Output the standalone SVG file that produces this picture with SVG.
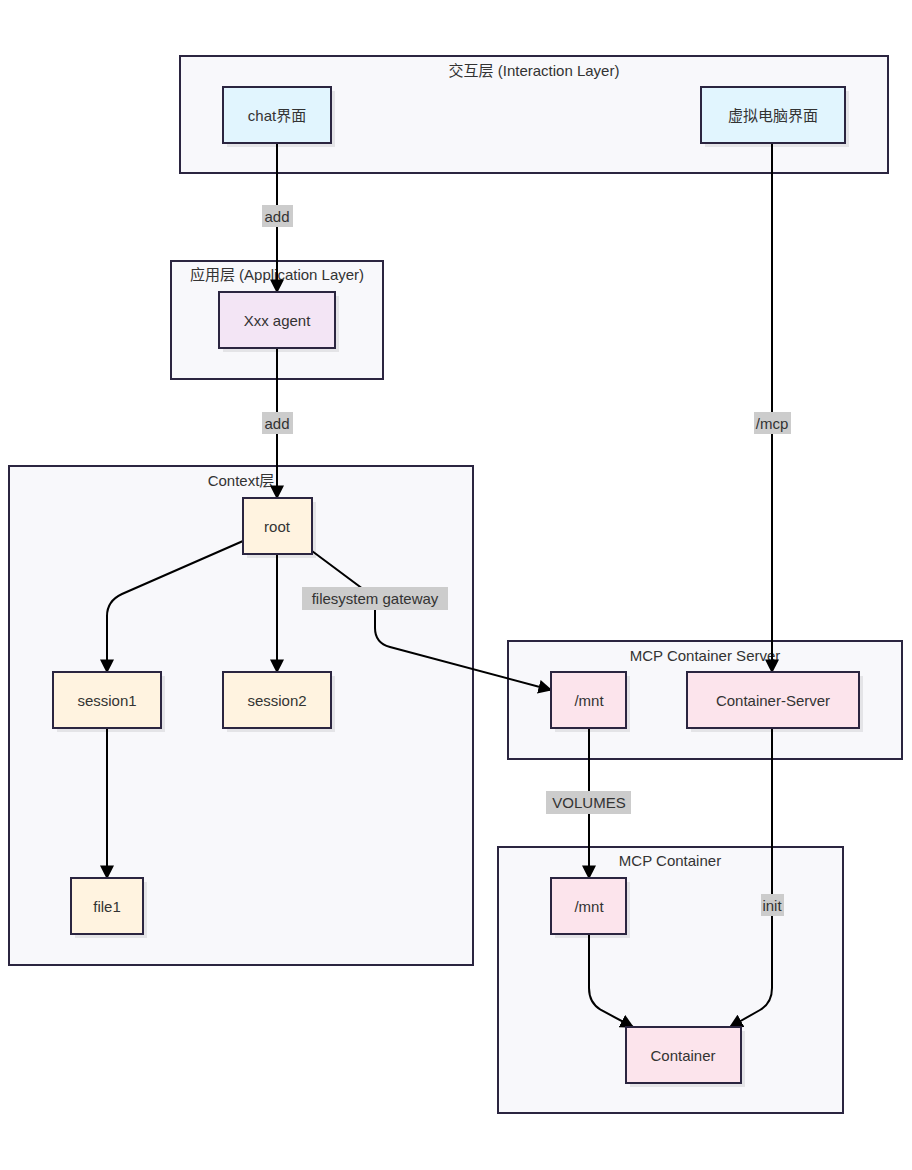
<svg xmlns="http://www.w3.org/2000/svg" width="912" height="1170" viewBox="0 0 912 1170">
<style>
text{font-family:"Liberation Sans",Arial,"Noto Sans CJK SC",sans-serif;font-size:15px;fill:#333;text-anchor:middle;dominant-baseline:central}
.cl{fill:#f8f8fb;stroke:#2b2540;stroke-width:2}
.n{stroke:#2b2540;stroke-width:2}
.sh{fill:#000;opacity:.08}
.b{fill:#e1f5fe}.p{fill:#f3e5f5}.o{fill:#fff3e0}.k{fill:#fce4ec}
.e{fill:none;stroke:#000;stroke-width:2;marker-end:url(#a)}
.lb{fill:#cccccc}
</style>
<defs><marker id="a" viewBox="0 0 10 10" refX="9" refY="5" markerWidth="7" markerHeight="7" orient="auto"><path d="M0,0L10,5L0,10z" fill="#000"/></marker></defs>
<g id="clusters">
<rect class="cl" x="180" y="56" width="708" height="117"/><text x="534" y="70">交互层 (Interaction Layer)</text>
<rect class="cl" x="171" y="261" width="212" height="118"/><text x="277" y="274">应用层 (Application Layer)</text>
<rect class="cl" x="9" y="466" width="464" height="499"/><text x="241" y="480">Context层</text>
<rect class="cl" x="508" y="641" width="394" height="118"/><text x="705" y="655">MCP Container Server</text>
<rect class="cl" x="498" y="847" width="345" height="266"/><text x="670" y="860">MCP Container</text>
</g>
<g id="edges">
<path class="e" d="M277,143V292"/>
<path class="e" d="M277,348V498"/>
<path class="e" d="M772,143V672"/>
<path class="e" d="M243,541L122,594Q107,601 107,616V672"/>
<path class="e" d="M277,554V672"/>
<path class="e" d="M312,551L375,598V628Q375,643 390,647L551,690"/>
<path class="e" d="M107,728V878"/>
<path class="e" d="M589,728V878"/>
<path class="e" d="M772,728V988Q772,1003 760,1010L730,1027"/>
<path class="e" d="M589,934V988Q589,1003 601,1010L633,1027"/>
<rect class="lb" x="262" y="205" width="31" height="22"/><text x="277" y="216">add</text>
<rect class="lb" x="262" y="412" width="31" height="22"/><text x="277" y="423">add</text>
<rect class="lb" x="754" y="412" width="37" height="22"/><text x="772" y="423">/mcp</text>
<rect class="lb" x="302" y="587" width="146" height="23"/><text x="375" y="598">filesystem gateway</text>
<rect class="lb" x="546" y="791" width="85" height="23"/><text x="589" y="802">VOLUMES</text>
<rect class="lb" x="761" y="894" width="23" height="22"/><text x="772" y="905">init</text>
</g>
<g id="n-chat"><rect class="sh" x="227" y="91" width="108" height="56"/><rect class="n b" x="223" y="87" width="108" height="56"/><text x="277" y="115">chat界面</text></g>
<g id="n-vpc"><rect class="sh" x="705" y="91" width="144" height="56"/><rect class="n b" x="701" y="87" width="144" height="56"/><text x="773" y="115">虚拟电脑界面</text></g>
<g id="n-agent"><rect class="sh" x="223" y="296" width="116" height="56"/><rect class="n p" x="219" y="292" width="116" height="56"/><text x="277" y="320">Xxx agent</text></g>
<g id="n-root"><rect class="sh" x="247" y="502" width="69" height="56"/><rect class="n o" x="243" y="498" width="69" height="56"/><text x="277" y="526">root</text></g>
<g id="n-s1"><rect class="sh" x="57" y="676" width="108" height="56"/><rect class="n o" x="53" y="672" width="108" height="56"/><text x="107" y="700">session1</text></g>
<g id="n-s2"><rect class="sh" x="227" y="676" width="108" height="56"/><rect class="n o" x="223" y="672" width="108" height="56"/><text x="277" y="700">session2</text></g>
<g id="n-f1"><rect class="sh" x="75" y="882" width="72" height="56"/><rect class="n o" x="71" y="878" width="72" height="56"/><text x="107" y="906">file1</text></g>
<g id="n-mnt1"><rect class="sh" x="555" y="676" width="75" height="56"/><rect class="n k" x="551" y="672" width="75" height="56"/><text x="589" y="700">/mnt</text></g>
<g id="n-cs"><rect class="sh" x="691" y="676" width="172" height="56"/><rect class="n k" x="687" y="672" width="172" height="56"/><text x="773" y="700">Container-Server</text></g>
<g id="n-mnt2"><rect class="sh" x="555" y="882" width="75" height="56"/><rect class="n k" x="551" y="878" width="75" height="56"/><text x="589" y="906">/mnt</text></g>
<g id="n-c"><rect class="sh" x="630" y="1031" width="115" height="56"/><rect class="n k" x="626" y="1027" width="115" height="56"/><text x="683" y="1055">Container</text></g>
</svg>
